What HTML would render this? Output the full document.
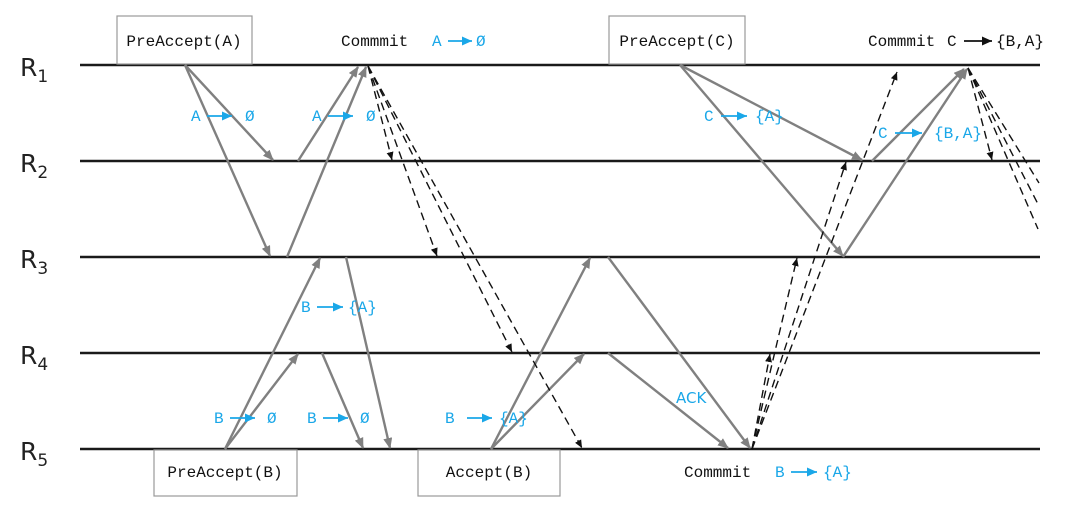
<!DOCTYPE html>
<html><head><meta charset="utf-8"><style>
html,body{margin:0;padding:0;background:#fff;}
svg{display:block;}
.m{font-family:"Liberation Mono","DejaVu Sans Mono",monospace;font-size:16px;}
.b{fill:#1aa7e8;}
.k{fill:#111;}
.r{font-family:"DejaVu Sans","Liberation Sans",sans-serif;font-size:25px;fill:#222;}
.rs{font-size:17px;}
</style></head><body>
<svg width="1080" height="508" viewBox="0 0 1080 508" xmlns="http://www.w3.org/2000/svg">
<defs>
<marker id="g" markerWidth="11" markerHeight="9" refX="10" refY="4.5" orient="auto" markerUnits="userSpaceOnUse"><path d="M0,0 L11,4.5 L0,9 Z" fill="#808080"/></marker>
<marker id="d" markerWidth="8" markerHeight="7" refX="8" refY="3.5" orient="auto" markerUnits="userSpaceOnUse"><path d="M0,0 L8,3.5 L0,7 Z" fill="#111"/></marker>
<marker id="bl" markerWidth="10" markerHeight="9" refX="10" refY="4.5" orient="auto" markerUnits="userSpaceOnUse"><path d="M0,0 L10,4.5 L0,9 Z" fill="#1aa7e8"/></marker>
<marker id="bk" markerWidth="10" markerHeight="9" refX="10" refY="4.5" orient="auto" markerUnits="userSpaceOnUse"><path d="M0,0 L10,4.5 L0,9 Z" fill="#111"/></marker>
</defs>
<g stroke="#1a1a1a" stroke-width="2.6">
<line x1="80" y1="65" x2="1040" y2="65"/>
<line x1="80" y1="161" x2="1040" y2="161"/>
<line x1="80" y1="257" x2="1040" y2="257"/>
<line x1="80" y1="353" x2="1040" y2="353"/>
<line x1="80" y1="449" x2="1040" y2="449"/>
</g>
<text class="r" x="20" y="76">R<tspan class="rs" dy="6">1</tspan></text>
<text class="r" x="20" y="172">R<tspan class="rs" dy="6">2</tspan></text>
<text class="r" x="20" y="268">R<tspan class="rs" dy="6">3</tspan></text>
<text class="r" x="20" y="364">R<tspan class="rs" dy="6">4</tspan></text>
<text class="r" x="20" y="460">R<tspan class="rs" dy="6">5</tspan></text>
<g fill="#fff" stroke="#999" stroke-width="1.2">
<rect x="117" y="16" width="135" height="48"/>
<rect x="609" y="16" width="136" height="48"/>
<rect x="154" y="450" width="143" height="46"/>
<rect x="418" y="450" width="142" height="46"/>
</g>
<text class="m k" x="184" y="46" text-anchor="middle">PreAccept(A)</text>
<text class="m k" x="677" y="46" text-anchor="middle">PreAccept(C)</text>
<text class="m k" x="225" y="477" text-anchor="middle">PreAccept(B)</text>
<text class="m k" x="489" y="477" text-anchor="middle">Accept(B)</text>
<g stroke="#808080" stroke-width="2.4" fill="none" marker-end="url(#g)">
<line x1="185" y1="65" x2="273" y2="160"/>
<line x1="185" y1="65" x2="270" y2="256"/>
<line x1="298" y1="161" x2="358" y2="67"/>
<line x1="287" y1="257" x2="366" y2="67"/>
<line x1="225" y1="449" x2="320" y2="258"/>
<line x1="225" y1="449" x2="298" y2="354"/>
<line x1="322" y1="353" x2="363" y2="448"/>
<line x1="346" y1="257" x2="390" y2="448"/>
<line x1="491" y1="449" x2="590" y2="258"/>
<line x1="491" y1="449" x2="584" y2="354"/>
<line x1="608" y1="257" x2="750" y2="448"/>
<line x1="608" y1="353" x2="728" y2="448"/>
<line x1="680" y1="65" x2="862" y2="160"/>
<line x1="680" y1="65" x2="843" y2="256"/>
<line x1="872" y1="161" x2="964" y2="69"/>
<line x1="843" y1="257" x2="967" y2="69"/>
</g>
<g stroke="#111" stroke-width="1.4" stroke-dasharray="8,5" fill="none">
<line x1="368" y1="66" x2="392" y2="160" marker-end="url(#d)"/>
<line x1="368" y1="66" x2="437" y2="256" marker-end="url(#d)"/>
<line x1="368" y1="66" x2="512" y2="352" marker-end="url(#d)"/>
<line x1="368" y1="66" x2="582" y2="448" marker-end="url(#d)"/>
<line x1="752" y1="449" x2="770" y2="354" marker-end="url(#d)"/>
<line x1="752" y1="449" x2="797" y2="258" marker-end="url(#d)"/>
<line x1="752" y1="449" x2="846" y2="162" marker-end="url(#d)"/>
<line x1="752" y1="449" x2="897" y2="72" marker-end="url(#d)"/>
<line x1="968" y1="68" x2="992" y2="160" marker-end="url(#d)"/>
<line x1="968" y1="68" x2="1039" y2="183"/>
<line x1="968" y1="68" x2="1039" y2="206"/>
<line x1="968" y1="68" x2="1038" y2="229"/>
</g>
<g class="m">
<text class="k" x="341" y="46">Commmit</text>
<text class="b" x="432" y="46">A</text><line x1="448" y1="41" x2="472" y2="41" stroke="#1aa7e8" stroke-width="1.8" marker-end="url(#bl)"/><text class="b" x="476" y="46">Ø</text>
<text class="k" x="868" y="46">Commmit</text>
<text class="k" x="947" y="46">C</text><line x1="964" y1="41" x2="992" y2="41" stroke="#111" stroke-width="1.8" marker-end="url(#bk)"/><text class="k" x="996" y="46">{B,A}</text>
<text class="b" x="191" y="121">A</text><line x1="207" y1="116" x2="232" y2="116" stroke="#1aa7e8" stroke-width="1.8" marker-end="url(#bl)"/><text class="b" x="245" y="121">Ø</text>
<text class="b" x="312" y="121">A</text><line x1="328" y1="116" x2="353" y2="116" stroke="#1aa7e8" stroke-width="1.8" marker-end="url(#bl)"/><text class="b" x="366" y="121">Ø</text>
<text class="b" x="704" y="121">C</text><line x1="721" y1="116" x2="747" y2="116" stroke="#1aa7e8" stroke-width="1.8" marker-end="url(#bl)"/><text class="b" x="755" y="121">{A}</text>
<text class="b" x="878" y="138">C</text><line x1="895" y1="133" x2="922" y2="133" stroke="#1aa7e8" stroke-width="1.8" marker-end="url(#bl)"/><text class="b" x="934" y="138">{B,A}</text>
<text class="b" x="301" y="312">B</text><line x1="317" y1="307" x2="343" y2="307" stroke="#1aa7e8" stroke-width="1.8" marker-end="url(#bl)"/><text class="b" x="348" y="312">{A}</text>
<text class="b" x="214" y="423">B</text><line x1="230" y1="418" x2="255" y2="418" stroke="#1aa7e8" stroke-width="1.8" marker-end="url(#bl)"/><text class="b" x="267" y="423">Ø</text>
<text class="b" x="307" y="423">B</text><line x1="323" y1="418" x2="348" y2="418" stroke="#1aa7e8" stroke-width="1.8" marker-end="url(#bl)"/><text class="b" x="360" y="423">Ø</text>
<text class="b" x="445" y="423">B</text><line x1="467" y1="418" x2="492" y2="418" stroke="#1aa7e8" stroke-width="1.8" marker-end="url(#bl)"/><text class="b" x="499" y="423">{A}</text>
<text class="k" x="684" y="477">Commmit</text>
<text class="b" x="775" y="477">B</text><line x1="791" y1="472" x2="817" y2="472" stroke="#1aa7e8" stroke-width="1.8" marker-end="url(#bl)"/><text class="b" x="823" y="477">{A}</text>
</g>
<text x="676" y="403" font-family="DejaVu Sans,Liberation Sans,sans-serif" font-size="15" fill="#1aa7e8">ACK</text>
</svg>
</body></html>
